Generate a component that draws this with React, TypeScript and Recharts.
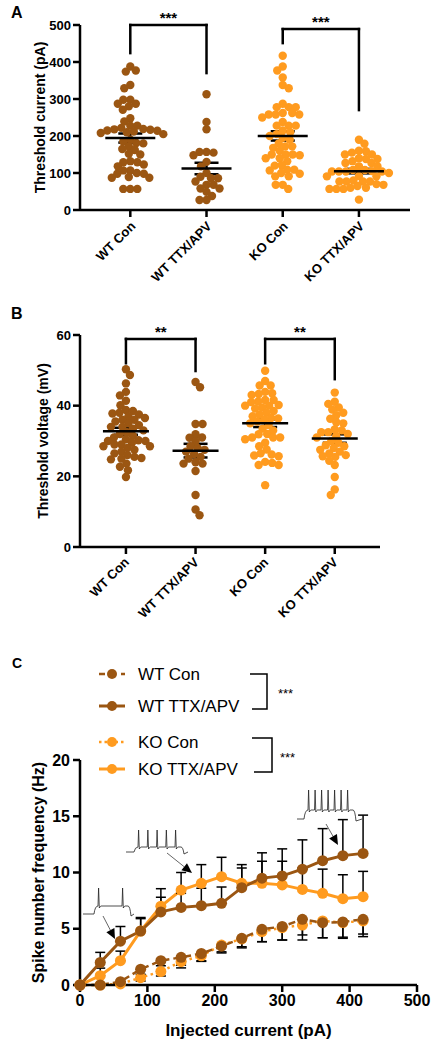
import React from "react";
import {
  ScatterChart,
  Scatter,
  LineChart,
  Line,
  XAxis,
  YAxis,
  ErrorBar,
  ReferenceLine,
} from "recharts";

const FONT = "'Liberation Sans', Arial, Helvetica, sans-serif";
const WT = "#9b5612";
const KO = "#ff9b1f";

const groups = ["WT Con", "WT TTX/APV", "KO Con", "KO TTX/APV"];
const groupColors = [WT, WT, KO, KO];

// A: threshold current (pA)
const currentWtCon = [
  388, 377, 374, 338, 329, 298, 298, 287, 287, 280, 271, 248, 239, 228, 228, 222, 219, 218, 217, 215,
  214, 212, 210, 208, 205, 190, 185, 181, 180, 172, 165, 162, 152, 150, 132, 129, 129, 123, 118, 107,
  107, 100, 98, 98, 89, 87, 87, 57, 57, 57,
];
const currentWtTtx = [
  313, 238, 218, 157, 157, 155, 148, 130, 118, 100, 90, 86, 86, 77, 68, 68, 58, 58, 49, 38, 27, 27,
];
const currentKoCon = [
  417, 388, 377, 358, 338, 329, 287, 278, 278, 278, 262, 262, 258, 258, 258, 250, 238, 228, 228, 228,
  215, 210, 205, 200, 195, 190, 180, 172, 172, 168, 160, 150, 150, 150, 148, 140, 140, 132, 121, 120,
  109, 109, 107, 100, 98, 91, 91, 68, 68, 57,
];
const currentKoTtx = [
  190, 179, 160, 159, 155, 150, 150, 140, 138, 138, 132, 127, 127, 118, 118, 108, 108, 105, 104, 104,
  104, 104, 100, 92, 91, 91, 80, 77, 77, 77, 77, 70, 68, 65, 60, 60, 57, 57, 57, 28,
];

// B: threshold voltage (mV)
const voltWtCon = [
  50.3, 48.7, 46.3, 43.9, 42.9, 41.4, 40.1, 38.8, 38.5, 38, 37.8, 37.5, 37, 36.5, 36, 36, 35.5, 35,
  34.5, 34, 34, 33.5, 33, 32.5, 32, 31.5, 31, 30.5, 30.2, 30, 30, 29.5, 29, 29, 28.5, 28.5, 28, 27.5,
  27, 26.5, 26, 25.5, 25.2, 25, 24.8, 23.6, 22.7, 21.7, 19.8,
];
const voltWtTtx = [
  46.7, 45.2, 34.8, 34.8, 31.9, 31, 30.9, 29.9, 28.5, 28, 27.5, 27, 26.3, 25.5, 25, 24, 23.6, 23.6,
  21.5, 14.7, 10.6, 9,
];
const voltKoCon = [
  49.9, 47, 45.7, 45.7, 43.9, 43.5, 43.3, 43, 41.6, 41.6, 41.2, 41, 40.2, 40, 40, 39.5, 39.2, 38.5, 38,
  37.5, 37, 36.5, 36.4, 36, 35.5, 35, 34.5, 33.5, 33, 32, 31.9, 31, 31, 31, 30.5, 29.5, 28.5, 27.6,
  26.5, 26.2, 25.9, 25.7, 24.1, 23.8, 23.2, 23.2, 17.5,
];
const voltKoTtx = [
  43.7, 41.1, 40.5, 39.5, 38.9, 38, 37.3, 36.3, 35.3, 35, 33.3, 33, 32.5, 32.5, 32, 31.4, 31, 30, 29.5,
  28.8, 28.5, 28, 27.5, 27, 26.5, 26, 25.7, 25.5, 24.4, 23.2, 19.8, 16.3, 14.7,
];

// C: spike number frequency (Hz) vs injected current (pA)
const injected = [0, 30, 60, 90, 120, 150, 180, 210, 240, 270, 300, 330, 360, 390, 420];
const wtConHz = [0, 0, 0.3, 1.4, 2.16, 2.46, 2.8, 3.45, 4.15, 4.95, 5.2, 5.84, 5.54, 5.6, 5.84];
const wtConSem = [0, 0, 0.15, 0.45, 0.45, 0.7, 0.65, 0.6, 0.85, 1.1, 1.2, 1.84, 1.34, 1.45, 1.54];
const wtTtxHz = [0, 2.0, 3.9, 4.8, 6.5, 6.9, 7.05, 7.26, 8.65, 9.5, 9.7, 10.3, 11.05, 11.5, 11.7];
const wtTtxSem = [0, 0.9, 1.3, 1.2, 1.3, 1.25, 1.55, 1.45, 1.75, 2.25, 2.4, 2.6, 2.85, 3.2, 3.4];
const koConHz = [0, 0, 0.1, 0.65, 1.2, 2.07, 2.6, 3.55, 4.1, 4.75, 5.1, 5.33, 5.7, 5.55, 5.7];
const koConSem = [0, 0, 0.1, 0.3, 0.4, 0.55, 0.5, 0.6, 0.7, 0.9, 1.1, 0.88, 1.5, 1.3, 1.17];
const koTtxHz = [0, 0.83, 2.16, 4.8, 7.0, 8.44, 9.04, 9.63, 9.04, 9.04, 8.9, 8.5, 8.15, 7.67, 7.85];
const koTtxSem = [0, 0.67, 0.85, 1.1, 1.56, 1.56, 1.66, 1.72, 1.66, 1.96, 2.1, 1.9, 2.15, 2.13, 2.25];

const lineSeries = [
  { key: "koCon", name: "KO Con", color: KO, dash: "2.5 3.5", width: 2.5, values: koConHz, sem: koConSem, up: false },
  { key: "koTtx", name: "KO TTX/APV", color: KO, dash: undefined, width: 3, values: koTtxHz, sem: koTtxSem, up: true },
  { key: "wtCon", name: "WT Con", color: WT, dash: "7 4", width: 2.5, values: wtConHz, sem: wtConSem, up: false },
  { key: "wtTtx", name: "WT TTX/APV", color: WT, dash: undefined, width: 3, values: wtTtxHz, sem: wtTtxSem, up: true },
];
const legendOrder = ["wtCon", "wtTtx", "koCon", "koTtx"];

const lineData = injected.map((c, i) => {
  const row: any = { current: c };
  lineSeries.forEach((s) => {
    row[s.key] = s.values[i];
    row[s.key + "Err"] = s.up ? [0, s.sem[i]] : [s.sem[i], 0];
  });
  return row;
});

function stats(v: number[]) {
  const n = v.length;
  const m = v.reduce((a, b) => a + b, 0) / n;
  const sd = Math.sqrt(v.reduce((a, b) => a + (b - m) * (b - m), 0) / (n - 1));
  return { m, sem: sd / Math.sqrt(n) };
}

// simple beeswarm: offsets in px so dots mostly don't overlap
function swarm(values: number[], pxPerY: number, dist: number) {
  const order = values.map((_, i) => i).sort((a, b) => values[b] - values[a]);
  const placed: { x: number; y: number }[] = [];
  const off = new Array(values.length).fill(0);
  order.forEach((i, n) => {
    const y = values[i] * pxPerY;
    const sign = n % 2 === 0 ? 1 : -1;
    let best = 0;
    for (let k = 0; k < 600; k++) {
      const dx = sign * (k % 2 === 0 ? 1 : -1) * Math.ceil(k / 2) * 0.5;
      if (placed.every((p) => (p.x - dx) ** 2 + (p.y - y) ** 2 >= dist * dist)) {
        best = dx;
        break;
      }
    }
    placed.push({ x: best, y });
    off[i] = best;
  });
  return off;
}

type Bracket = { a: number; b: number; top: number; legA: number; legB: number; stars: string };

const yLabel = (text: string, cx: number, size: number) => (p: any) => {
  const cy = p.viewBox.y + p.viewBox.height / 2;
  return (
    <text
      x={cx}
      y={cy}
      transform={`rotate(-90 ${cx} ${cy})`}
      textAnchor="middle"
      dominantBaseline="central"
      fontSize={size}
      fontWeight="bold"
      fontFamily={FONT}
      fill="#000"
    >
      {text}
    </text>
  );
};

const catTick = (dx: number, dy: number) => (p: any) => {
  const x = p.x + dx;
  const y = p.y + dy;
  return (
    <text
      x={x}
      y={y}
      textAnchor="end"
      transform={`rotate(-45 ${x} ${y})`}
      fontSize={13}
      fontWeight="bold"
      fontFamily={FONT}
      fill="#000"
    >
      {groups[p.payload.value - 1]}
    </text>
  );
};

function DotPanel(props: {
  sets: number[][];
  yMax: number;
  yTicks: number[];
  label: string;
  width: number;
  height: number;
  top: number;
  right: number;
  xAxisHeight: number;
  xDomain: [number, number];
  brackets: Bracket[];
  meanHalf: number;
  labelX: number;
  tickDx: number;
  tickDy: number;
  spacing: number;
}) {
  const { width, height, top, right, xAxisHeight, xDomain, yMax } = props;
  const pxPerX = (width - 80 - right) / (xDomain[1] - xDomain[0]);
  const pxPerY = (height - top - xAxisHeight) / yMax;
  const r = 4.2;
  const points = props.sets.map((vals, gi) => {
    const off = swarm(vals, pxPerY, props.spacing);
    return vals.map((v, j) => ({ x: gi + 1 + off[j] / pxPerX, y: v }));
  });
  const means = props.sets.map((vals, gi) => {
    const s = stats(vals);
    return { x: gi + 1, y: s.m, e: s.sem };
  });
  const black = { stroke: "#000", strokeWidth: 2.5 };
  const tickFont = { fontSize: 13, fontWeight: "bold", fill: "#000", fontFamily: FONT };

  return (
    <ScatterChart width={width} height={height} margin={{ top, right, left: 0, bottom: 0 }}>
      <XAxis
        type="number"
        dataKey="x"
        domain={xDomain}
        ticks={[1, 2, 3, 4]}
        interval={0}
        allowDataOverflow
        height={xAxisHeight}
        axisLine={black}
        tickLine={black}
        tickSize={7}
        tick={catTick(props.tickDx, props.tickDy)}
      />
      <YAxis
        type="number"
        dataKey="y"
        domain={[0, yMax]}
        ticks={props.yTicks}
        interval={0}
        width={80}
        axisLine={black}
        tickLine={black}
        tickSize={7}
        tickMargin={2}
        tick={tickFont}
        label={yLabel(props.label, props.labelX, 14)}
      />
      {points.map((pts, gi) => (
        <Scatter
          key={groups[gi]}
          data={pts}
          fill={groupColors[gi]}
          isAnimationActive={false}
          shape={(p: any) => <circle cx={p.cx} cy={p.cy} r={r} fill={groupColors[gi]} />}
        />
      ))}
      <Scatter
        data={means}
        isAnimationActive={false}
        shape={(p: any) => (
          <line x1={p.cx - props.meanHalf} x2={p.cx + props.meanHalf} y1={p.cy} y2={p.cy} stroke="#000" strokeWidth={2.5} />
        )}
      >
        <ErrorBar dataKey="e" direction="y" width={12} stroke="#000" strokeWidth={2.5} />
      </Scatter>
      {props.brackets.flatMap((b, i) => [
        <ReferenceLine
          key={`t${i}`}
          segment={[{ x: b.a, y: b.top }, { x: b.b, y: b.top }]}
          stroke="#000"
          strokeWidth={2.5}
          strokeLinecap="square"
          label={{ value: b.stars, position: "top", offset: 2, fontSize: 15, fontWeight: "bold", fill: "#000", fontFamily: FONT }}
        />,
        <ReferenceLine key={`a${i}`} segment={[{ x: b.a, y: b.top }, { x: b.a, y: b.legA }]} stroke="#000" strokeWidth={2.5} strokeLinecap="square" />,
        <ReferenceLine key={`b${i}`} segment={[{ x: b.b, y: b.top }, { x: b.b, y: b.legB }]} stroke="#000" strokeWidth={2.5} strokeLinecap="square" />,
      ])}
    </ScatterChart>
  );
}

function tracePath(x0: number, x1: number, base: number, step: number, spikeTop: number, on: number, off: number, spikes: number) {
  let d = `M${x0} ${base} L${on} ${base} Q${on + 1} ${step} ${on + 4} ${step}`;
  const first = on + 4;
  const last = off - 6;
  for (let i = 0; i < spikes; i++) {
    const sx = spikes === 1 ? first : first + ((last - first) * i) / (spikes - 1);
    d += ` L${sx} ${step} L${sx + 0.6} ${spikeTop} L${sx + 1.3} ${step + 2} Q${sx + 2.5} ${step} ${sx + 3} ${step}`;
  }
  d += ` L${off} ${step} Q${off + 2} ${step} ${off + 3} ${base + 2} L${x1} ${base}`;
  return d;
}

function Arrow({ x1, y1, x2, y2 }: { x1: number; y1: number; x2: number; y2: number }) {
  const len = Math.hypot(x2 - x1, y2 - y1);
  const ux = (x2 - x1) / len;
  const uy = (y2 - y1) / len;
  const hl = 10;
  const hw = 4.5;
  const bx = x2 - ux * hl;
  const by = y2 - uy * hl;
  return (
    <g>
      <line x1={x1} y1={y1} x2={bx} y2={by} stroke="#666" strokeWidth={1} />
      <polygon points={`${x2},${y2} ${bx - uy * hw},${by + ux * hw} ${bx + uy * hw},${by - ux * hw}`} fill="#000" />
    </g>
  );
}

function Overlay() {
  const rowsY = [674, 706, 742, 769];
  return (
    <svg width={441} height={1050} style={{ position: "absolute", left: 0, top: 0, pointerEvents: "none" }}>
      <g fontFamily={FONT} fontWeight="bold" fill="#000">
        <text x={11} y={18} fontSize={16}>A</text>
        <text x={11} y={319} fontSize={16}>B</text>
        <text x={12} y={668} fontSize={14}>C</text>
      </g>
      {legendOrder.map((k, i) => {
        const s = lineSeries.find((x) => x.key === k)!;
        const y = rowsY[i];
        return (
          <g key={k}>
            <line x1={99} x2={125} y1={y} y2={y} stroke={s.color} strokeWidth={s.width} strokeDasharray={s.dash ? (s.key === "koCon" ? "2.5 3" : "6 5") : undefined} />
            <circle cx={112} cy={y} r={5} fill={s.color} />
            <text x={138} y={y} dominantBaseline="central" fontSize={17} fontFamily={FONT} fill="#000">
              {s.name}
            </text>
          </g>
        );
      })}
      <polyline points="250,674 267,674 267,709 252,709" fill="none" stroke="#000" strokeWidth={1.5} />
      <polyline points="252,738 272,738 272,772 254,772" fill="none" stroke="#000" strokeWidth={1.5} />
      <text x={278} y={698} fontSize={13} fontFamily={FONT} fill="#000">***</text>
      <text x={280} y={762} fontSize={13} fontFamily={FONT} fill="#000">***</text>
      <g fill="none" stroke="#222" strokeWidth={0.8}>
        <path d={tracePath(83, 134, 914, 906, 888, 94, 128, 2)} />
        <path d={tracePath(126, 188, 852, 847, 830, 134, 181, 5)} />
        <path d={tracePath(297, 362, 819, 810, 790, 304, 353, 7)} />
      </g>
      <Arrow x1={103} y1={916} x2={115} y2={939} />
      <Arrow x1={167} y1={853} x2={192} y2={873} />
      <Arrow x1={326} y1={824} x2={338} y2={845} />
    </svg>
  );
}

export default function App() {
  const black = { stroke: "#000", strokeWidth: 2.5 };
  const tickFont = { fontSize: 16, fontWeight: "bold", fill: "#000", fontFamily: FONT };
  return (
    <div style={{ position: "absolute", left: 0, top: 0, width: 441, height: 1050, background: "#fff", fontFamily: FONT }}>
      <div style={{ position: "absolute", left: 0, top: 0 }}>
        <DotPanel
          sets={[currentWtCon, currentWtTtx, currentKoCon, currentKoTtx]}
          yMax={500}
          yTicks={[0, 100, 200, 300, 400, 500]}
          label="Threshold current (pA)"
          width={441}
          height={300}
          top={25}
          right={31}
          xAxisHeight={90}
          xDomain={[0.34, 4.67]}
          meanHalf={25}
          labelX={40}
          tickDx={6}
          tickDy={8}
          spacing={6.8}
          brackets={[
            { a: 1, b: 2, top: 500, legA: 424, legB: 370, stars: "***" },
            { a: 3, b: 4, top: 489, legA: 451, legB: 270, stars: "***" },
          ]}
        />
      </div>
      <div style={{ position: "absolute", left: 0, top: 310 }}>
        <DotPanel
          sets={[voltWtCon, voltWtTtx, voltKoCon, voltKoTtx]}
          yMax={60}
          yTicks={[0, 20, 40, 60]}
          label="Threshold voltage (mV)"
          width={441}
          height={330}
          top={25}
          right={61}
          xAxisHeight={93}
          xDomain={[0.34, 4.65]}
          meanHalf={23}
          labelX={43}
          tickDx={4}
          tickDy={7}
          spacing={6.8}
          brackets={[
            { a: 1, b: 2, top: 58.9, legA: 52, legB: 49.8, stars: "**" },
            { a: 3, b: 4, top: 58.9, legA: 52, legB: 47.5, stars: "**" },
          ]}
        />
      </div>
      <div style={{ position: "absolute", left: 0, top: 640 }}>
        <LineChart width={441} height={410} data={lineData} margin={{ top: 120, right: 24, left: 0, bottom: 0 }}>
          <XAxis
            type="number"
            dataKey="current"
            domain={[0, 500]}
            ticks={[0, 100, 200, 300, 400, 500]}
            interval={0}
            height={65}
            axisLine={black}
            tickLine={black}
            tickSize={7}
            tickMargin={3}
            tick={tickFont}
            label={(p: any) => (
              <text
                x={p.viewBox.x + p.viewBox.width / 2}
                y={p.viewBox.y + 45}
                textAnchor="middle"
                dominantBaseline="central"
                fontSize={17}
                fontWeight="bold"
                fontFamily={FONT}
                fill="#000"
              >
                Injected current (pA)
              </text>
            )}
          />
          <YAxis
            type="number"
            domain={[0, 20]}
            ticks={[0, 5, 10, 15, 20]}
            interval={0}
            width={80}
            axisLine={black}
            tickLine={black}
            tickSize={7}
            tickMargin={3}
            tick={tickFont}
            label={yLabel("Spike number frequency (Hz)", 38, 16)}
          />
          {lineSeries.map((s) => (
            <Line
              key={s.key}
              type="linear"
              dataKey={s.key}
              name={s.name}
              stroke={s.color}
              strokeWidth={s.width}
              strokeDasharray={s.dash}
              dot={{ r: 5.5, fill: s.color, stroke: "none" }}
              isAnimationActive={false}
            >
              <ErrorBar dataKey={s.key + "Err"} width={5} stroke="#000" strokeWidth={1.5} />
            </Line>
          ))}
        </LineChart>
      </div>
      <Overlay />
    </div>
  );
}
